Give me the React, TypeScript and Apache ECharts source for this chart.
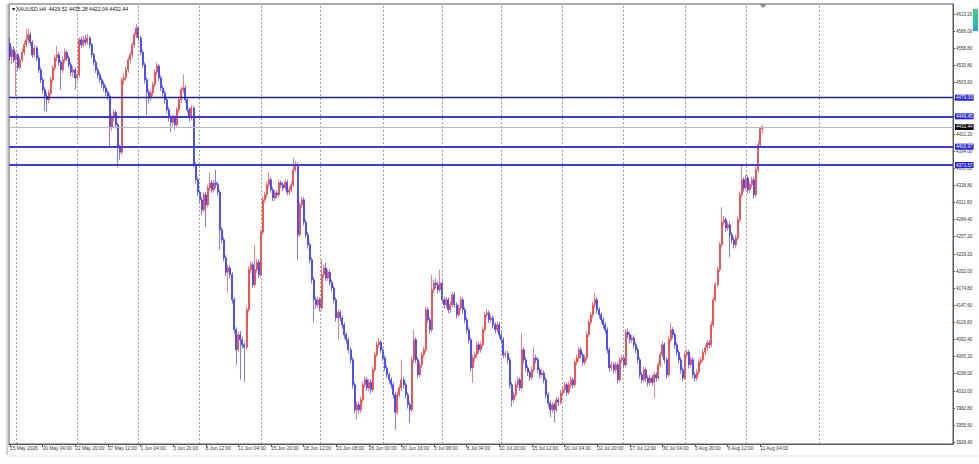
import React, { useEffect, useRef } from "react";
import * as echarts from "echarts";

// [open, close, low, high]
const mayBars: number[][] = [
  [4566,4545,4538,4575],[4545,4556,4533,4561],[4556,4540,4535,4562],[4540,4548,4482,4553],
  [4548,4528,4522,4552],[4528,4540,4524,4545],[4540,4552,4536,4558],[4552,4564,4547,4570],
  [4564,4572,4560,4589],[4572,4580,4566,4590],[4580,4568,4562,4584],[4568,4548,4543,4571],
  [4548,4559,4544,4564],[4559,4543,4538,4562],[4543,4524,4519,4547],[4524,4508,4503,4528],
  [4508,4492,4486,4512],[4492,4482,4458,4496],[4482,4476,4456,4488],[4476,4487,4470,4492],
  [4487,4508,4483,4512],[4508,4527,4504,4531],[4527,4543,4522,4548],[4543,4548,4538,4562],
  [4548,4536,4530,4553],[4536,4524,4492,4540],[4524,4540,4519,4545],[4540,4552,4535,4558],
  [4552,4543,4538,4556],[4543,4532,4527,4547],[4532,4520,4514,4536],[4520,4524,4512,4530],
  [4524,4511,4492,4528],[4511,4516,4505,4521],[4516,4572,4512,4576],[4572,4564,4559,4577],
  [4564,4572,4560,4578],[4572,4568,4563,4580],[4568,4575,4564,4581],[4575,4564,4558,4578],
  [4564,4548,4543,4567],[4548,4536,4531,4551],[4536,4524,4519,4540],[4524,4516,4510,4528],
  [4516,4508,4503,4520],[4508,4501,4495,4512],[4501,4495,4489,4506],[4495,4488,4482,4499],
  [4488,4482,4476,4492],[4482,4431,4400,4486],[4431,4447,4426,4452],[4447,4456,4441,4461],
  [4456,4436,4430,4459],[4436,4399,4368,4440],[4399,4392,4380,4404],[4392,4508,4388,4512],
  [4508,4511,4500,4518],[4511,4524,4506,4529],[4524,4540,4519,4544],[4540,4548,4534,4553],
  [4548,4564,4543,4568],[4564,4580,4559,4584],[4580,4591,4575,4597],
];

const juneBars: number[][] = [
  [4591,4575,4570,4594],[4575,4552,4547,4578],[4552,4532,4527,4556],[4532,4508,4502,4536],
  [4508,4488,4452,4512],[4488,4479,4470,4493],[4479,4487,4474,4492],[4487,4500,4482,4505],
  [4500,4520,4496,4524],[4520,4530,4515,4536],[4530,4511,4506,4533],[4511,4495,4490,4515],
  [4495,4487,4481,4499],[4487,4476,4470,4491],[4476,4460,4454,4480],[4460,4447,4441,4464],
  [4447,4440,4424,4451],[4440,4447,4434,4452],[4447,4436,4428,4451],[4436,4460,4432,4464],
  [4460,4476,4455,4481],[4476,4492,4471,4497],[4492,4495,4487,4516],[4495,4476,4471,4499],
  [4476,4460,4455,4480],[4460,4447,4441,4464],[4447,4463,4443,4468],[4463,4372,4368,4467],
  [4372,4348,4342,4376],[4348,4328,4322,4352],[4328,4316,4310,4332],[4316,4300,4292,4320],
  [4300,4324,4296,4328],[4324,4308,4272,4328],[4308,4335,4304,4340],[4335,4343,4330,4360],
  [4343,4332,4327,4347],[4332,4343,4328,4348],[4343,4340,4334,4364],[4340,4328,4322,4345],
  [4328,4268,4236,4332],[4268,4252,4246,4272],[4252,4223,4217,4256],[4223,4200,4194,4227],
  [4200,4207,4167,4212],[4207,4196,4190,4211],[4196,4156,4150,4200],[4156,4108,4102,4160],
  [4108,4076,4052,4112],[4076,4100,4072,4105],[4100,4092,4028,4106],[4092,4084,4078,4097],
  [4084,4080,4024,4088],[4080,4140,4076,4145],[4140,4204,4136,4209],[4204,4212,4199,4218],
  [4212,4180,4175,4216],[4180,4204,4176,4244],[4204,4216,4199,4221],[4216,4196,4191,4220],
  [4196,4264,4192,4268],[4264,4316,4260,4321],[4316,4324,4311,4329],[4324,4340,4319,4345],
  [4340,4348,4335,4360],[4348,4332,4327,4352],[4332,4319,4314,4336],[4319,4327,4314,4332],
  [4327,4324,4318,4331],[4324,4343,4320,4348],[4343,4340,4335,4347],[4340,4335,4330,4344],
  [4335,4344,4331,4349],[4344,4328,4323,4348],[4328,4332,4323,4337],[4332,4340,4328,4345],
  [4340,4364,4336,4383],[4364,4372,4360,4378],[4372,4260,4220,4376],[4260,4308,4256,4313],
  [4308,4316,4303,4321],[4316,4280,4275,4320],[4280,4260,4255,4284],[4260,4244,4238,4264],
  [4244,4220,4214,4248],[4220,4188,4182,4224],[4188,4156,4120,4192],[4156,4148,4142,4161],
  [4148,4156,4143,4161],[4156,4143,4137,4160],[4143,4196,4139,4220],[4196,4207,4191,4212],
  [4207,4191,4186,4215],[4191,4200,4186,4205],[4200,4184,4178,4204],[4184,4175,4169,4188],
  [4175,4156,4150,4179],[4156,4127,4121,4160],[4127,4136,4092,4141],[4136,4127,4121,4140],
  [4127,4116,4110,4131],[4116,4100,4094,4120],[4100,4092,4086,4104],[4092,4076,4070,4096],
  [4076,4060,4054,4080],[4060,4020,4014,4064],[4020,3980,3974,4024],[3980,3988,3964,3993],
  [3988,3980,3974,3993],[3980,3996,3975,4001],[3996,4020,3992,4025],[4020,4028,4015,4033],
  [4028,4015,4010,4032],[4015,4024,4010,4029],[4024,4012,4006,4028],[4012,4044,4008,4049],
  [4044,4068,4040,4073],[4068,4084,4064,4089],[4084,4088,4079,4095],[4088,4076,4071,4092],
  [4076,4063,4058,4080],[4063,4047,4042,4067],[4047,4036,4031,4051],[4036,4028,4022,4040],
  [4028,4020,4014,4032],[4020,4004,3998,4024],[4004,3976,3948,4008],[3976,4004,3972,4009],
  [4004,4015,4000,4020],[4015,4028,4010,4060],[4028,4020,4014,4033],
];

const julyBars: number[][] = [
  [4020,4004,3998,4024],[4004,3988,3982,4008],[3988,3980,3959,3992],[3980,4060,3976,4065],
  [4060,4092,4055,4108],[4092,4060,4055,4096],[4060,4036,4030,4064],[4036,4052,4032,4057],
  [4052,4068,4047,4073],[4068,4076,4063,4081],[4076,4140,4072,4145],[4140,4124,4119,4144],
  [4124,4108,4102,4128],[4108,4172,4104,4196],[4172,4183,4167,4188],[4183,4180,4174,4190],
  [4180,4172,4166,4185],[4172,4183,4168,4204],[4183,4156,4150,4187],[4156,4148,4142,4161],
  [4148,4156,4143,4161],[4156,4140,4134,4160],[4140,4148,4135,4153],[4148,4164,4144,4169],
  [4164,4148,4143,4168],[4148,4132,4126,4152],[4132,4143,4128,4148],[4143,4156,4139,4161],
  [4156,4140,4134,4160],[4140,4124,4118,4144],[4124,4108,4102,4128],[4108,4092,4086,4112],
  [4092,4047,4041,4096],[4047,4063,4023,4068],[4063,4068,4057,4073],[4068,4084,4063,4089],
  [4084,4076,4070,4088],[4076,4084,4071,4089],[4084,4108,4080,4113],[4108,4132,4104,4137],
  [4132,4135,4127,4141],[4135,4124,4119,4139],[4124,4127,4119,4132],[4127,4116,4110,4131],
  [4116,4108,4102,4120],[4108,4116,4104,4121],[4116,4100,4094,4120],[4100,4092,4086,4104],
  [4092,4068,4062,4096],[4068,4070,4063,4075],[4070,4060,4054,4074],[4060,4020,4014,4064],
  [4020,3996,3985,4024],[3996,4004,3991,4009],[4004,4020,4000,4025],[4020,4028,4015,4033],
  [4028,4015,4010,4032],[4015,4076,4011,4103],[4076,4060,4054,4080],[4060,4047,4041,4064],
  [4047,4040,4034,4051],[4040,4032,4026,4044],[4032,4044,4028,4049],[4044,4063,4040,4080],
  [4063,4060,4054,4068],[4060,4044,4038,4064],[4044,4036,4030,4048],[4036,4039,4031,4044],
  [4039,4028,4022,4043],[4028,4004,3998,4032],[4004,3991,3985,4008],[3991,3980,3968,3995],
  [3980,3988,3975,3993],[3988,3980,3960,3992],[3980,3996,3976,4001],[3996,3992,3986,4000],
  [3992,4007,3988,4012],[4007,4012,4002,4017],[4012,4020,4007,4025],[4020,4008,4002,4024],
  [4008,4020,4004,4025],[4020,4028,4015,4033],[4028,4020,4014,4032],[4020,4056,4016,4061],
  [4056,4063,4051,4068],[4063,4076,4058,4081],[4076,4068,4062,4080],[4068,4056,4050,4072],
  [4056,4063,4051,4068],[4063,4100,4059,4105],[4100,4120,4096,4125],[4120,4132,4115,4137],
  [4132,4148,4127,4153],[4148,4156,4143,4167],[4156,4140,4134,4160],[4140,4132,4126,4144],
  [4132,4124,4118,4136],[4124,4116,4110,4128],[4116,4108,4102,4120],[4108,4076,4070,4112],
  [4076,4047,4041,4080],[4047,4052,4042,4057],[4052,4044,4038,4056],[4044,4052,4039,4057],
  [4052,4028,4022,4056],[4028,4060,4024,4065],[4060,4063,4055,4068],[4063,4052,4046,4067],
  [4052,4104,4048,4109],[4104,4100,4094,4110],[4100,4092,4086,4104],[4092,4095,4087,4100],
  [4095,4084,4078,4099],[4084,4076,4070,4088],[4076,4060,4054,4080],[4060,4036,4030,4064],
  [4036,4028,4022,4040],[4028,4044,4024,4049],[4044,4031,4025,4048],[4031,4023,4017,4035],
  [4023,4031,4018,4036],[4031,4024,4018,4035],[4024,4036,3999,4041],[4036,4031,4025,4040],
  [4031,4052,4027,4057],[4052,4068,4048,4073],[4068,4084,4064,4089],[4084,4060,4054,4088],
  [4060,4036,4030,4064],[4036,4092,4032,4097],[4092,4108,4088,4119],[4108,4100,4094,4112],
  [4100,4084,4078,4104],[4084,4072,4066,4088],[4072,4060,4054,4076],[4060,4044,4038,4064],
  [4044,4031,4025,4048],
];

const augustBars: number[][] = [
  [4031,4068,4027,4073],[4068,4072,4063,4077],[4072,4052,4046,4076],[4052,4060,4047,4065],
  [4060,4036,4030,4064],[4036,4031,4025,4040],[4031,4040,4026,4045],[4040,4056,4036,4061],
  [4056,4060,4051,4065],[4060,4072,4056,4077],[4072,4079,4067,4084],[4079,4087,4074,4092],
  [4087,4084,4078,4091],[4084,4116,4080,4121],[4116,4156,4112,4161],[4156,4180,4152,4185],
  [4180,4204,4176,4209],[4204,4244,4200,4249],[4244,4280,4240,4304],[4280,4284,4274,4290],
  [4284,4271,4265,4288],[4271,4276,4266,4281],[4276,4260,4224,4280],[4260,4252,4246,4264],
  [4252,4244,4238,4256],[4244,4255,4239,4260],[4255,4284,4251,4289],[4284,4324,4280,4329],
  [4324,4348,4320,4372],[4348,4335,4329,4352],[4335,4351,4331,4356],[4351,4332,4326,4355],
  [4332,4340,4327,4345],[4340,4348,4335,4353],[4348,4324,4318,4352],[4324,4364,4320,4369],
  [4364,4404,4360,4409],[4404,4429.52,4400,4433],[4429.52,4432.44,4422.04,4435.28],
];

const tickLabels: string[] = [
  "15 May 2026", "20 May 04:00", "22 May 20:00", "27 May 12:00", "1 Jun 04:00", "3 Jun 20:00",
  "8 Jun 12:00", "11 Jun 04:00", "15 Jun 20:00", "18 Jun 12:00", "23 Jun 08:00", "26 Jun 00:00",
  "30 Jun 16:00", "3 Jul 08:00", "8 Jul 04:00", "10 Jul 20:00", "15 Jul 12:00", "20 Jul 04:00",
  "22 Jul 20:00", "27 Jul 12:00", "30 Jul 04:00", "3 Aug 20:00", "6 Aug 12:00", "11 Aug 04:00",
];
const barsPerLabel = 16;

const priceTicks: number[] = [
  4613.2, 4586.0, 4558.8, 4530.8, 4503.6, 4476.4, 4449.2, 4421.2, 4394.0, 4366.8, 4338.8,
  4311.6, 4284.4, 4257.2, 4229.2, 4202.0, 4174.8, 4147.6, 4119.6, 4092.4, 4065.2, 4038.0,
  4010.0, 3982.8, 3955.6, 3928.4,
];

const levelLines: number[] = [4479.33, 4449.45, 4400.97, 4371.57];
const lastPrice = 4432.44;
const headline = "\u25BCXAUUSD,H4  4429.52 4435.28 4422.04 4432.44";
const gridBarIndex: number[] = [3, 33, 63, 93, 123, 152, 183, 212, 241, 271, 301, 331, 361, 397];

const TOTAL_SLOTS = 463;
const FONT = "Liberation Sans";
const BULL = "#ec2a2a";
const BEAR = "#2323f5";

export default function App() {
  const ref = useRef<HTMLDivElement>(null);
  useEffect(() => {
    document.body.style.margin = "0";
    const chart = echarts.init(ref.current!, undefined, { renderer: "svg" });
    const bars = [...mayBars, ...juneBars, ...julyBars, ...augustBars];
    const slots = Array.from({ length: TOTAL_SLOTS }, (_, i) => String(i));
    const isTick = (i: number) => i % barsPerLabel === 0 && i / barsPerLabel < tickLabels.length;

    const tagLabel = (bg: string) => ({
      show: true,
      position: "end",
      distance: 2,
      formatter: (p: any) => Number(p.value).toFixed(2),
      color: "#ffffff",
      backgroundColor: bg,
      padding: [1, 1, 0, 1],
      fontSize: 4.6,
      fontFamily: FONT,
    });

    const option: any = {
      animation: false,
      backgroundColor: "#ffffff",
      textStyle: { fontFamily: FONT },
      grid: {
        left: 9, top: 4, right: 26, bottom: 20,
        show: true, borderColor: "#5a5a5a", borderWidth: 1, backgroundColor: "#ffffff",
      },
      xAxis: {
        type: "category",
        data: slots,
        boundaryGap: true,
        axisLine: { show: true, lineStyle: { color: "#5a5a5a", width: 1 } },
        axisTick: {
          show: true, interval: (i: number) => isTick(i), alignWithLabel: true, length: 3,
          lineStyle: { color: "#555" },
        },
        axisLabel: {
          interval: (i: number) => isTick(i),
          formatter: (_v: string, i: number) => tickLabels[i / barsPerLabel] ?? "",
          align: "left",
          fontSize: 4.8,
          margin: 2,
          color: "#333",
          fontFamily: FONT,
        },
        splitLine: { show: false },
      },
      yAxis: {
        type: "value",
        position: "right",
        min: 3925.2,
        max: 4629.2,
        scale: true,
        axisLine: { show: true, lineStyle: { color: "#5a5a5a", width: 1 } },
        axisTick: { show: true, customValues: priceTicks, length: 2, lineStyle: { color: "#555" } },
        axisLabel: {
          customValues: priceTicks,
          formatter: (v: number) => v.toFixed(2),
          fontSize: 4.5,
          margin: 3,
          color: "#333",
          fontFamily: FONT,
        },
        splitLine: { show: false },
      },
      graphic: [
        { type: "text", left: 11, top: 6, style: { text: headline, fontSize: 5.2, fill: "#111", fontFamily: FONT } },
        { type: "line", shape: { x1: 7, y1: 4, x2: 7, y2: 455 }, style: { stroke: "#aaaaaa", lineWidth: 1 } },
        { type: "line", shape: { x1: 7, y1: 456, x2: 979, y2: 456 }, style: { stroke: "#e2e2e2", lineWidth: 1 } },
        { type: "polygon", shape: { points: [[759, 4], [767, 4], [763, 8]] }, style: { fill: "#8c8c8c" } },
        {
          type: "rect", shape: { x: 973, y: 9, width: 5, height: 22 },
          style: {
            fill: new echarts.graphic.LinearGradient(0, 0, 0, 1, [
              { offset: 0, color: "#3fd07a" },
              { offset: 0.6, color: "#33c0a0" },
              { offset: 1, color: "#2f9ae6" },
            ]),
          },
        },
      ],
      series: [
        {
          type: "line",
          data: [],
          z: 1,
          silent: true,
          markLine: {
            silent: true,
            symbol: ["none", "none"],
            label: { show: false },
            lineStyle: { type: [2, 2], color: "#8a8a8a", width: 0.8 },
            data: gridBarIndex.map((i) => ({ xAxis: String(i) })),
          },
        },
        {
          type: "candlestick",
          data: bars,
          z: 3,
          barWidth: 1.5,
          itemStyle: {
            color: BULL,
            color0: BEAR,
            borderColor: BULL,
            borderColor0: BEAR,
            borderColorDoji: BEAR,
            borderWidth: 0.6,
          },
          markLine: {
            silent: true,
            symbol: ["none", "none"],
            data: [
              { yAxis: lastPrice, lineStyle: { color: "#b4b6c4", width: 1, type: "solid" }, label: tagLabel("#000000") },
              ...levelLines.map((v, k) => ({
                yAxis: v,
                lineStyle: { color: k === 0 ? "#1e1e96" : "#3c3cd2", width: k === 0 ? 1.4 : 1.8, type: "solid" },
                label: tagLabel("#2424d8"),
              })),
            ],
          },
        },
      ],
    };
    chart.setOption(option);
    return () => chart.dispose();
  }, []);
  return <div ref={ref} style={{ width: 979, height: 464 }} />;
}
